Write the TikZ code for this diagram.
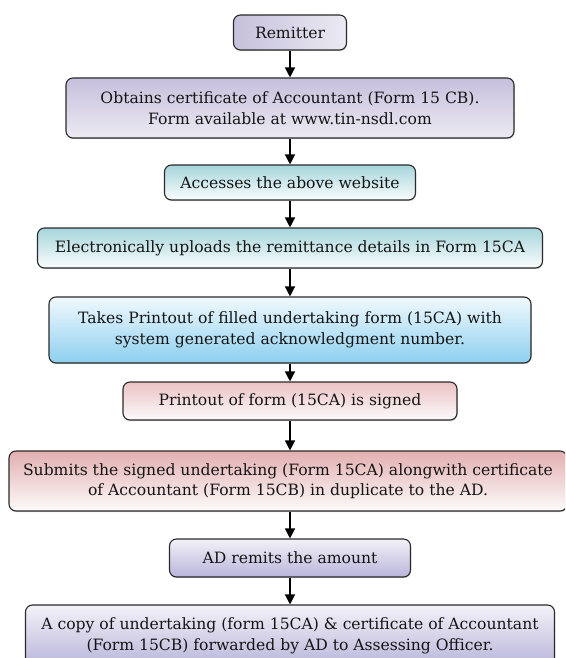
\documentclass[tikz,border=0pt]{standalone}
\usepackage{fontspec}
\setmainfont{DejaVu Serif}
\usetikzlibrary{arrows.meta,shadows}
\definecolor{lavD}{HTML}{C6C0DC}
\definecolor{lavL}{HTML}{ECEAF3}
\definecolor{tealD}{HTML}{A6D5DB}
\definecolor{tealL}{HTML}{FAFDFD}
\definecolor{blueD}{HTML}{8DCFEF}
\definecolor{blueL}{HTML}{F0F9FD}
\definecolor{pinkD}{HTML}{EBC2C4}
\definecolor{pinkE}{HTML}{E3AFB1}
\definecolor{pinkL}{HTML}{FCFBFB}
\definecolor{lavB}{HTML}{B9B4DA}
\definecolor{lavT}{HTML}{F3F2F8}
\definecolor{txt}{HTML}{151515}
\definecolor{edge}{HTML}{2A2A2A}
\tikzset{
  flowbox/.style={draw=edge, line width=1.1pt, rounded corners=7pt, align=center,
    inner sep=0pt, text=txt, font=\fontsize{15.6}{20.5}\selectfont,
    drop shadow={opacity=0.35, shadow xshift=0.6pt, shadow yshift=-1.2pt}},
  arr/.style={draw=black, line width=1.3pt, -{Triangle[width=10pt,length=10pt]}}
}
\begin{document}
\begin{tikzpicture}[x=1pt,y=-1pt]
\useasboundingbox (0,0) rectangle (565,658);
\clip (0,0) rectangle (565,658);
\node[flowbox, minimum width=113pt, minimum height=35pt, left color=lavD, right color=lavL] (b1) at (290,32.5) {Remitter};
\node[flowbox, minimum width=448pt, minimum height=60pt, top color=lavD, bottom color=lavL] (b2) at (290,108) {Obtains certificate of Accountant (Form 15 CB).\\Form available at www.tin-nsdl.com};
\node[flowbox, minimum width=251pt, minimum height=35pt, top color=tealD, bottom color=tealL] (b3) at (290,182.5) {Accesses the above website};
\node[flowbox, minimum width=505pt, minimum height=40pt, top color=tealD, bottom color=tealL] (b4) at (290,248) {Electronically uploads the remittance details in Form 15CA};
\node[flowbox, minimum width=482pt, minimum height=66pt, top color=blueL, bottom color=blueD] (b5) at (290,330) {Takes Printout of filled undertaking form (15CA) with\\system generated acknowledgment number.};
\node[flowbox, minimum width=334pt, minimum height=38pt, top color=pinkD, bottom color=pinkL] (b6) at (290,401) {Printout of form (15CA) is signed};
\node[flowbox, minimum width=558pt, minimum height=60pt, top color=pinkE, bottom color=pinkL] (b7) at (288,481) {Submits the signed undertaking (Form 15CA) alongwith certificate\\of Accountant (Form 15CB) in duplicate to the AD.};
\node[flowbox, minimum width=241pt, minimum height=38pt, top color=lavT, bottom color=lavB] (b8) at (290,558) {AD remits the amount};
\node[flowbox, minimum width=529pt, minimum height=62pt, top color=lavT, bottom color=lavB] (b9) at (290,636) {A copy of undertaking (form 15CA) \& certificate of Accountant\\(Form 15CB) forwarded by AD to Assessing Officer.};
\draw[arr] (b1.south) -- (b2.north);
\draw[arr] (b2.south) -- (b3.north);
\draw[arr] (b3.south) -- (b4.north);
\draw[arr] (b4.south) -- (b5.north);
\draw[arr] (b5.south) -- (b6.north);
\draw[arr] (b6.south) -- (b6.south |- b7.north);
\draw[arr] (b6.south |- b7.south) -- (b8.north);
\draw[arr] (b8.south) -- (b9.north);
\end{tikzpicture}
\end{document}
